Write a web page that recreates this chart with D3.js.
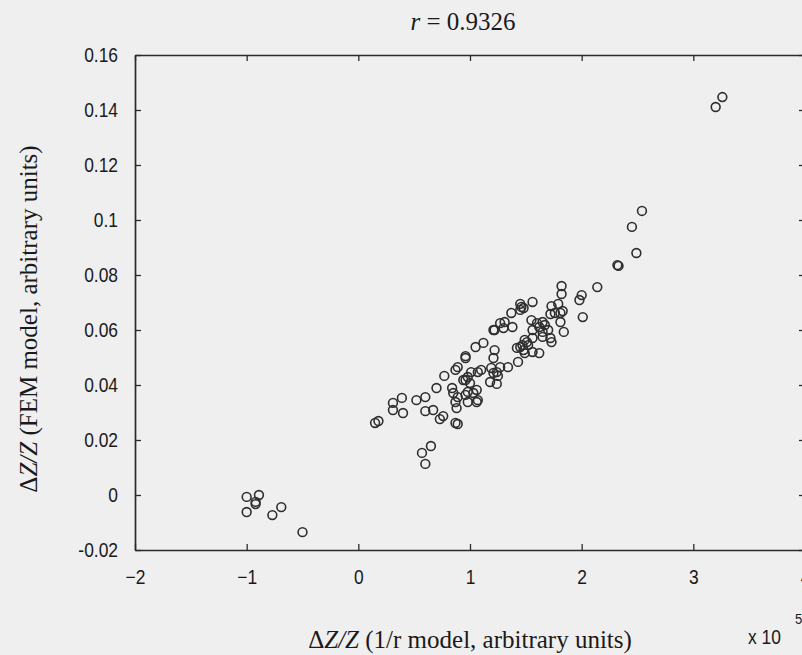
<!DOCTYPE html>
<html>
<head>
<meta charset="utf-8">
<script src="https://cdn.jsdelivr.net/npm/d3@7"></script>
<style>
  html, body { margin: 0; padding: 0; background: #efefef; overflow: hidden; }
  svg { display: block; }
</style>
</head>
<body>
<svg id="chart" width="802" height="655"></svg>
<script>
// 1/r model values (in units of 1e5)
const xValues = [
  -1.00, -0.92, -0.89, -1.00, -0.92, -0.77, -0.69, -0.50,
  0.15, 0.18, 0.31, 0.39, 0.31, 0.40, 0.52, 0.60, 0.60, 0.67, 0.76, 0.73, 0.87, 0.89,
  0.65, 0.57, 0.60,
  0.70, 0.77, 0.87, 0.89, 0.84, 0.85, 0.89, 0.87, 0.88,
  0.98, 1.06, 1.03, 1.07, 1.06, 0.98, 0.96,
  0.96, 0.96, 0.96, 0.98, 1.00, 0.94,
  1.07, 1.10, 1.01, 1.05, 1.12,
  1.19, 1.24, 1.25, 1.18, 1.24, 1.21, 1.21, 1.22,
  1.27, 1.34, 1.43, 1.45, 1.49, 1.52, 1.48, 1.42, 1.47, 1.49, 1.56, 1.62,
  1.21, 1.30, 1.38, 1.27, 1.31, 1.22,
  1.37, 1.45, 1.45, 1.48, 1.56, 1.46,
  1.55, 1.60, 1.65, 1.62, 1.56, 1.67, 1.70, 1.65, 1.65, 1.72, 1.73, 1.56, 1.51,
  1.73, 1.79, 1.76, 1.81, 1.72, 1.83, 1.81, 1.84,
  1.82, 1.82, 2.00, 1.98, 2.01, 2.14,
  2.32, 2.33, 2.49, 2.45, 2.54,
  3.20, 3.26
];
// FEM model values
const yValues = [
  -0.0007, -0.0025, 0.0000, -0.0062, -0.0033, -0.0073, -0.0044, -0.0135,
  0.0262, 0.0269, 0.0335, 0.0353, 0.0309, 0.0298, 0.0345, 0.0356, 0.0305, 0.0309, 0.0287, 0.0276, 0.0262, 0.0258,
  0.0178, 0.0153, 0.0113,
  0.0389, 0.0433, 0.0455, 0.0465, 0.0389, 0.0371, 0.0356, 0.0338, 0.0316,
  0.0375, 0.0382, 0.0371, 0.0345, 0.0338, 0.0338, 0.0364,
  0.0505, 0.0498, 0.0418, 0.0429, 0.0407, 0.0418,
  0.0447, 0.0455, 0.0447, 0.0538, 0.0553,
  0.0462, 0.0447, 0.0433, 0.0411, 0.0404, 0.0444, 0.0498, 0.0527,
  0.0465, 0.0465, 0.0484, 0.0538, 0.0516, 0.0545, 0.0527, 0.0535, 0.0545, 0.0564, 0.0520, 0.0516,
  0.0600, 0.0607, 0.0611, 0.0625, 0.0629, 0.0600,
  0.0662, 0.0695, 0.0673, 0.0680, 0.0702, 0.0684,
  0.0636, 0.0625, 0.0629, 0.0611, 0.0600, 0.0618, 0.0600, 0.0593, 0.0575, 0.0571, 0.0556, 0.0571, 0.0556,
  0.0687, 0.0695, 0.0662, 0.0662, 0.0658, 0.0669, 0.0629, 0.0593,
  0.0760, 0.0731, 0.0727, 0.0709, 0.0647, 0.0756,
  0.0836, 0.0833, 0.0880, 0.0975, 0.1033,
  0.1411, 0.1447
];
const xTicks = [-2, -1, 0, 1, 2, 3, 4];
const yTicks = [-0.02, 0, 0.02, 0.04, 0.06, 0.08, 0.1, 0.12, 0.14, 0.16];
const yTickLabels = ["-0.02", "0", "0.02", "0.04", "0.06", "0.08", "0.1", "0.12", "0.14", "0.16"];

const svg = d3.select("#chart");
const plotLeft = 135, plotRight = 805, plotTop = 55, plotBottom = 550;

const x = d3.scaleLinear().domain([-2, 4]).range([plotLeft, plotRight]);
const y = d3.scaleLinear().domain([-0.02, 0.16]).range([plotBottom, plotTop]);

const ink = "#2a2a2a";
const tickLen = 6;
const squeeze = 0.87;   // narrow the sans labels a little

// axes with inward ticks on all four sides
const axisFont = "'Liberation Sans', Arial, sans-serif";
const gB = svg.append("g").attr("transform", `translate(0,${plotBottom})`)
  .call(d3.axisBottom(x).tickValues(xTicks).tickSizeInner(-tickLen).tickSizeOuter(0).tickPadding(20).tickFormat(d3.format("d")));
const gT = svg.append("g").attr("transform", `translate(0,${plotTop})`)
  .call(d3.axisTop(x).tickValues(xTicks).tickSizeInner(-tickLen).tickSizeOuter(0).tickFormat(""));
const gL = svg.append("g").attr("transform", `translate(${plotLeft},0)`)
  .call(d3.axisLeft(y).tickValues(yTicks).tickSizeInner(-tickLen).tickSizeOuter(0).tickPadding(17)
    .tickFormat((d, i) => yTickLabels[i]));
const gR = svg.append("g").attr("transform", `translate(${plotRight},0)`)
  .call(d3.axisRight(y).tickValues(yTicks).tickSizeInner(-tickLen).tickSizeOuter(0).tickFormat(""));

[gB, gT, gL, gR].forEach(g => {
  g.select(".domain").attr("stroke", ink).attr("stroke-width", 1.7);
  g.selectAll(".tick line").attr("stroke", ink).attr("stroke-width", 1.3);
  g.selectAll(".tick text").attr("fill", "#1a1a1a")
    .style("font-family", axisFont).style("font-size", "20px");
});
gL.selectAll(".tick text").attr("x", -17 / squeeze).attr("transform", `scale(${squeeze},1)`);
gB.selectAll(".tick text").attr("transform", `scale(${squeeze},1)`);

// scatter markers
const pts = xValues.map((v, i) => [v, yValues[i]]);
svg.append("g").selectAll("circle").data(pts).join("circle")
  .attr("cx", d => x(d[0]))
  .attr("cy", d => y(d[1]))
  .attr("r", 4.4)
  .attr("fill", "none")
  .attr("stroke", "#2e2e2e")
  .attr("stroke-width", 1.6);

const serif = "'Liberation Serif', 'Times New Roman', serif";

// title
const title = svg.append("text").attr("x", 463).attr("y", 30).attr("text-anchor", "middle")
  .style("font-family", serif).style("font-size", "25px").attr("fill", "#1a1a1a");
title.append("tspan").style("font-style", "italic").text("r");
title.append("tspan").text(" = 0.9326");

// x axis label
const xl = svg.append("text").attr("x", 470).attr("y", 648).attr("text-anchor", "middle")
  .style("font-family", serif).style("font-size", "25px").attr("fill", "#1a1a1a");
xl.append("tspan").text("Δ");
xl.append("tspan").style("font-style", "italic").text("Z/Z");
xl.append("tspan").text(" (1/r model, arbitrary units)");

// y axis label
const yl = svg.append("text").attr("transform", "translate(37,319) rotate(-90)").attr("text-anchor", "middle")
  .style("font-family", serif).style("font-size", "25px").attr("fill", "#1a1a1a");
yl.append("tspan").text("Δ");
yl.append("tspan").style("font-style", "italic").text("Z/Z");
yl.append("tspan").text(" (FEM model, arbitrary units)");

// exponent multiplier for the x axis
svg.append("text").attr("transform", `translate(748,644) scale(${squeeze},1)`)
  .style("font-family", axisFont).style("font-size", "20px").attr("fill", "#1a1a1a").text("x 10");
svg.append("text").attr("transform", `translate(795,624) scale(${squeeze},1)`)
  .style("font-family", axisFont).style("font-size", "15px").attr("fill", "#1a1a1a").text("5");
</script>
</body>
</html>
